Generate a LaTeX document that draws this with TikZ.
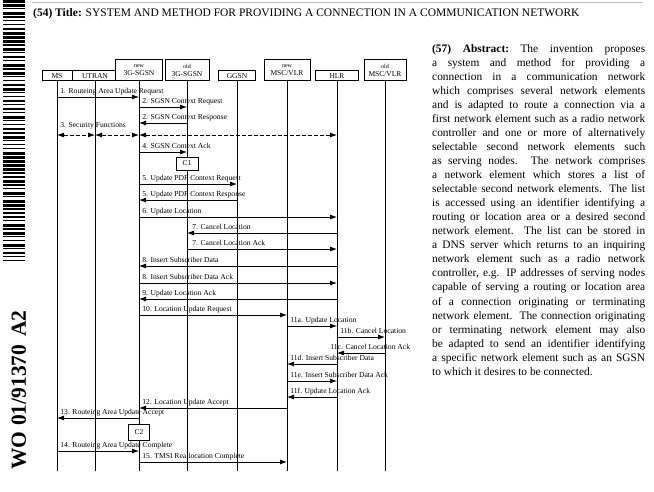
\documentclass[tikz,border=0pt]{standalone}
\usepackage{fontspec}
\setmainfont{Liberation Serif}
\usetikzlibrary{arrows.meta}

\newcommand{\absline}[1]{\makebox[213pt][s]{#1}}

\begin{document}
\begin{tikzpicture}[
    x=1pt, y=-1pt,
    entity/.style={
        rectangle,
        draw,
        fill=white,
        line width=0.8pt,
        inner sep=1pt,
        minimum height=10pt,
        anchor=south,
        align=center,
        font=\fontsize{7.5}{8}\selectfont
    },
    twoline/.style={
        entity,
        minimum height=21pt
    },
    life/.style={
        draw, line width=0.8pt
    },
    msg/.style={
        draw, line width=0.8pt, -{Latex[length=7pt,width=5pt]}
    },
    both/.style={
        draw, line width=0.8pt, dash pattern=on 4pt off 2pt,
        {Latex[length=7pt,width=5pt]}-{Latex[length=7pt,width=5pt]}
    },
    lbl/.style={
        anchor=base west,
        inner sep=0pt,
        shift={(3pt,3.5pt)},
        font=\fontsize{7.6}{9}\selectfont
    },
    cbox/.style={
        rectangle,
        draw,
        fill=white,
        line width=0.8pt,
        font=\fontsize{7.5}{9}\selectfont
    }
]
\useasboundingbox (0,0) rectangle (654,491);

% Page header
\pgfmathsetseed{4}
\foreach \i in {0,...,65} {
    \pgfmathsetmacro{\bh}{1+int(3*rnd)}
    \fill (3,\i*4) rectangle (25,\i*4+\bh);
}
\node [rotate=90, inner sep=0pt, font=\bfseries\fontsize{21.5}{21.5}\selectfont] (wo) at (19,390) {WO\hspace{0.25em}01/91370\hspace{8pt}A2};
\draw [black!25, line width=0.8pt] (32,2) -- (643,2);
\node [anchor=base west, inner sep=0pt, font=\fontsize{11.5}{13}\selectfont] (title) at (33,16)
    {\textbf{(54) Title:} SYSTEM AND METHOD FOR PROVIDING A CONNECTION IN A COMMUNICATION NETWORK};

% Abstract
\node [anchor=north west, inner sep=0pt, align=left, font=\fontsize{11.4}{14.05}\selectfont] (abstract) at (432,44) {%
    \absline{\textbf{(57) Abstract:}\quad The invention proposes}\\
    \absline{a system and method for providing a}\\
    \absline{connection in a communication network}\\
    \absline{which comprises several network elements}\\
    \absline{and is adapted to route a connection via a}\\
    \absline{first network element such as a radio network}\\
    \absline{controller and one or more of alternatively}\\
    \absline{selectable second network elements such}\\
    \absline{as serving nodes.\ \ The network comprises}\\
    \absline{a network element which stores a list of}\\
    \absline{selectable second network elements. The list}\\
    \absline{is accessed using an identifier identifying a}\\
    \absline{routing or location area or a desired second}\\
    \absline{network element.\ \ The list can be stored in}\\
    \absline{a DNS server which returns to an inquiring}\\
    \absline{network element such as a radio network}\\
    \absline{controller, e.g. IP addresses of serving nodes}\\
    \absline{capable of serving a routing or location area}\\
    \absline{of a connection originating or terminating}\\
    \absline{network element. The connection originating}\\
    \absline{or terminating network element may also}\\
    \absline{be adapted to send an identifier identifying}\\
    \absline{a specific network element such as an SGSN}\\
    to which it desires to be connected.};

% Network elements
\node [entity, minimum width=30pt] (ms) at (57,81) {MS};
\node [entity, minimum width=45pt] (utran) at (95,81) {UTRAN};
\node [twoline, minimum width=47pt] (nsgsn) at (139,81) {{\fontsize{6}{7}\selectfont new}\\3G-SGSN};
\node [twoline, minimum width=44pt] (osgsn) at (187,81) {{\fontsize{6}{7}\selectfont old}\\3G-SGSN};
\node [entity, minimum width=37pt] (ggsn) at (237,81) {GGSN};
\node [twoline, minimum width=46pt] (nmsc) at (287,81) {{\fontsize{6}{7}\selectfont new}\\MSC/VLR};
\node [entity, minimum width=43pt] (hlr) at (337,81) {HLR};
\node [twoline, minimum width=42pt] (omsc) at (385,81) {{\fontsize{6}{7}\selectfont old}\\MSC/VLR};

% Lifelines
\coordinate (bottom) at (0,471);
\foreach \n in {ms,utran,nsgsn,osgsn,ggsn,nmsc,hlr,omsc}
    \draw [life] (\n) -- (\n |- bottom);

% Messages
\draw [msg] (ms |- 0,97) -- node [lbl, pos=0] {1. Routeing Area Update Request} (nsgsn |- 0,97);
\draw [msg] (nsgsn |- 0,107) -- node [lbl, pos=0] {2. SGSN Context Request} (osgsn |- 0,107);
\draw [msg] (osgsn |- 0,123) -- node [lbl, pos=1] {2. SGSN Context Response} (nsgsn |- 0,123);

\draw [both] (ms |- 0,135) -- node [lbl, pos=0, yshift=4pt] {3. Security Functions} (utran |- 0,135);
\draw [both] (utran |- 0,135) -- (nsgsn |- 0,135);
\draw [both] (nsgsn |- 0,135) -- (hlr |- 0,135);

\draw [msg] (nsgsn |- 0,152) -- node [lbl, pos=0] {4. SGSN Context Ack} (osgsn |- 0,152);
\node [cbox, minimum width=22pt, minimum height=13pt] (c1) at (osgsn |- 0,163.5) {C1};

\draw [msg] (nsgsn |- 0,184) -- node [lbl, pos=0] {5. Update PDP Context Request} (ggsn |- 0,184);
\draw [msg] (ggsn |- 0,200) -- node [lbl, pos=1] {5. Update PDP Context Response} (nsgsn |- 0,200);
\draw [msg] (nsgsn |- 0,217) -- node [lbl, pos=0] {6. Update Location} (hlr |- 0,217);
\draw [msg] (hlr |- 0,233) -- node [lbl, pos=1, xshift=2pt] {7. Cancel Location} (osgsn |- 0,233);
\draw [msg] (osgsn |- 0,249) -- node [lbl, pos=0, xshift=2pt] {7. Cancel Location Ack} (hlr |- 0,249);
\draw [msg] (hlr |- 0,266) -- node [lbl, pos=1] {8. Insert Subscriber Data} (nsgsn |- 0,266);
\draw [msg] (nsgsn |- 0,283) -- node [lbl, pos=0] {8. Insert Subscriber Data Ack} (hlr |- 0,283);
\draw [msg] (hlr |- 0,299) -- node [lbl, pos=1] {9. Update Location Ack} (nsgsn |- 0,299);
\draw [msg] (nsgsn |- 0,315) -- node [lbl, pos=0] {10. Location Update Request} (nmsc |- 0,315);

\draw [msg] (nmsc |- 0,326) -- node [lbl, pos=0] {11a. Update Location} (hlr |- 0,326);
\draw [msg] (hlr |- 0,337) -- node [lbl, pos=0] {11b. Cancel Location} (omsc |- 0,337);
\draw [msg] (omsc |- 0,353) -- node [lbl, pos=1, xshift=-10pt] {11c. Cancel Location Ack} (hlr |- 0,353);
\draw [msg] (hlr |- 0,364) -- node [lbl, pos=1] {11d. Insert Subscriber Data} (nmsc |- 0,364);
\draw [msg] (nmsc |- 0,381) -- node [lbl, pos=0] {11e. Insert Subscriber Data Ack} (hlr |- 0,381);
\draw [msg] (hlr |- 0,397) -- node [lbl, pos=1] {11f. Update Location Ack} (nmsc |- 0,397);

\draw [msg] (nmsc |- 0,408) -- node [lbl, pos=1] {12. Location Update Accept} (nsgsn |- 0,408);
\draw [msg] (nsgsn |- 0,418) -- node [lbl, pos=1] {13. Routeing Area Update Accept} (ms |- 0,418);
\node [cbox, minimum width=21pt, minimum height=16pt] (c2) at (nsgsn |- 0,432) {C2};
\draw [msg] (ms |- 0,451) -- node [lbl, pos=0] {14. Routeing Area Update Complete} (nsgsn |- 0,451);
\draw [msg] (nsgsn |- 0,462) -- node [lbl, pos=0] {15. TMSI Reallocation Complete} (nmsc |- 0,462);

\end{tikzpicture}
\end{document}
